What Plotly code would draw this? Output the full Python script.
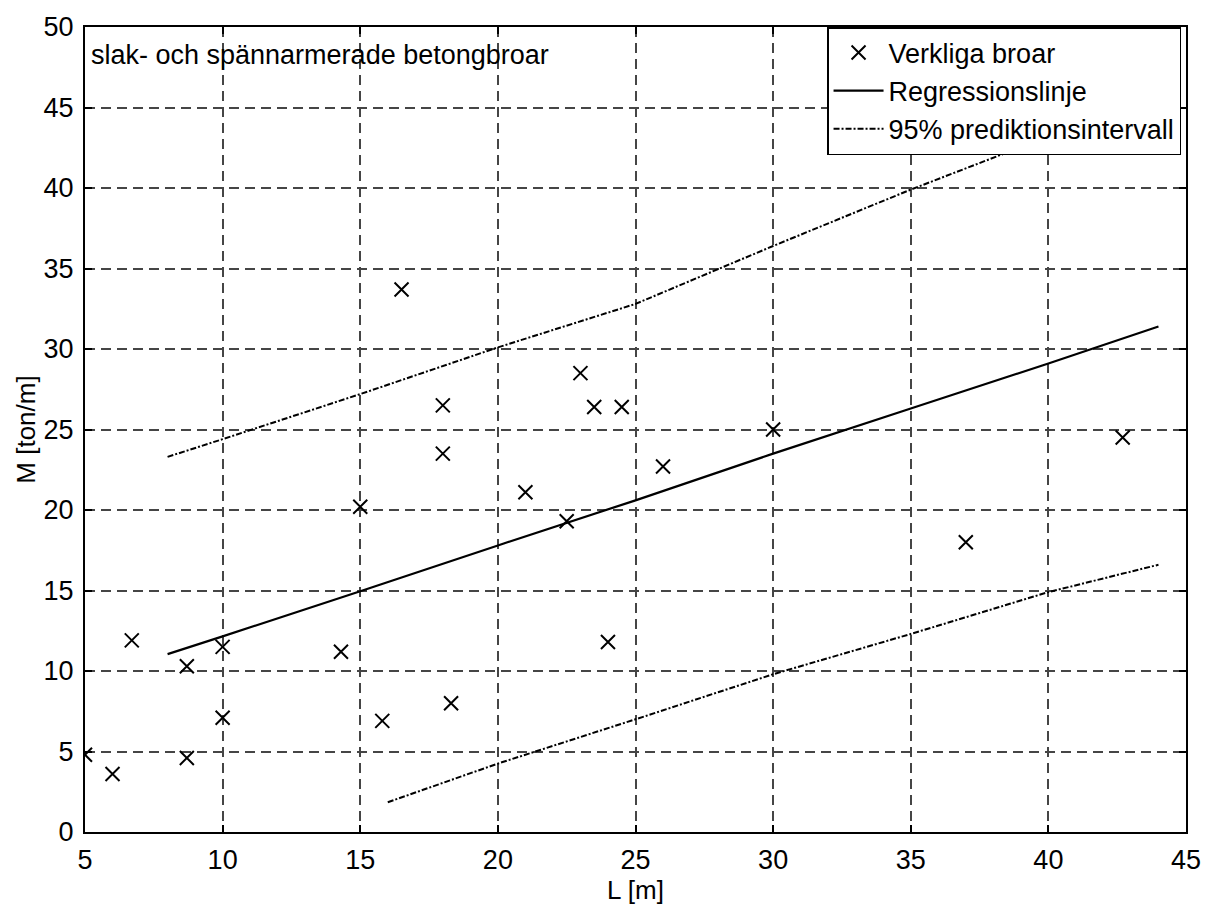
import plotly.graph_objects as go

# Bridge span L [m] and moment M [ton/m] for the observed bridges
span_m = [5.0, 6.0, 6.7, 8.7, 8.7, 10.0, 10.0, 14.3, 15.0, 15.8, 16.5, 18.0,
          18.0, 18.3, 21.0, 22.5, 23.0, 23.5, 24.5, 24.0, 26.0, 30.0, 37.0, 42.7]
moment = [4.8, 3.6, 11.9, 10.3, 4.6, 11.5, 7.1, 11.2, 20.2, 6.9, 33.7, 26.5,
          23.5, 8.0, 21.1, 19.3, 28.5, 26.4, 26.4, 11.8, 22.7, 25.0, 18.0, 24.5]

# Fitted regression line
fit_x = [8, 10, 15, 20, 25, 30, 35, 40, 44]
fit_y = [11.05, 12.15, 14.95, 17.8, 20.6, 23.5, 26.3, 29.1, 31.4]

# 95 % prediction interval (upper and lower limits)
pi_upper_x = [8, 10, 15, 20, 25, 30, 35, 40, 44]
pi_upper_y = [23.3, 24.4, 27.2, 30.1, 32.8, 36.4, 39.9, 43.2, 46.2]
pi_lower_x = [16, 20, 25, 30, 35, 40, 44]
pi_lower_y = [1.85, 4.25, 7.0, 9.8, 12.3, 14.9, 16.6]

FONT = "Liberation Sans, Arial, Helvetica, sans-serif"
FS = 27

fig = go.Figure()

fig.add_trace(go.Scatter(
    x=span_m, y=moment, mode="markers", name="Verkliga broar",
    marker=dict(symbol="x-thin", size=14, color="black",
                line=dict(color="black", width=2)),
))
fig.add_trace(go.Scatter(
    x=fit_x, y=fit_y, mode="lines", name="Regressionslinje",
    line=dict(color="black", width=2.2),
))
fig.add_trace(go.Scatter(
    x=pi_upper_x + [None] + pi_lower_x,
    y=pi_upper_y + [None] + pi_lower_y,
    mode="lines", name="95% prediktionsintervall", connectgaps=False,
    line=dict(color="black", width=2, dash="6px,2px,2px,2px"),
))

axis_common = dict(
    showline=True, linecolor="black", linewidth=2, mirror="allticks",
    ticks="inside", ticklen=7, tickwidth=1.5, tickcolor="black",
    showgrid=True, gridcolor="#454545", gridwidth=1.5, griddash="10px,6px",
    zeroline=False, dtick=5,
    tickfont=dict(family=FONT, size=FS, color="black"),
)

fig.update_xaxes(
    range=[5, 45], tick0=5, ticklabelstandoff=3,
    title=dict(text="L [m]", standoff=0,
               font=dict(family=FONT, size=FS - 1, color="black")),
    **axis_common,
)
fig.update_yaxes(
    range=[0, 50], tick0=0, ticklabelstandoff=4,
    title=dict(text="M [ton/m]", standoff=0,
               font=dict(family=FONT, size=FS - 1, color="black")),
    **axis_common,
)

fig.add_annotation(
    x=0.004, y=0.965, xref="paper", yref="paper", xanchor="left", yanchor="middle",
    text="slak- och spännarmerade betongbroar", showarrow=False,
    font=dict(family=FONT, size=FS, color="black"),
)

fig.update_layout(
    width=1213, height=906,
    margin=dict(l=85, r=25, t=19, b=70),
    paper_bgcolor="white", plot_bgcolor="white",
    font=dict(family=FONT, size=FS, color="black"),
    showlegend=True,
    legend=dict(
        x=0.9955, y=1.0, xanchor="right", yanchor="top",
        bgcolor="white", bordercolor="black", borderwidth=1.5,
        itemwidth=50, tracegroupgap=0,
        font=dict(family=FONT, size=FS, color="black"),
    ),
)

fig.write_html("out.html")
